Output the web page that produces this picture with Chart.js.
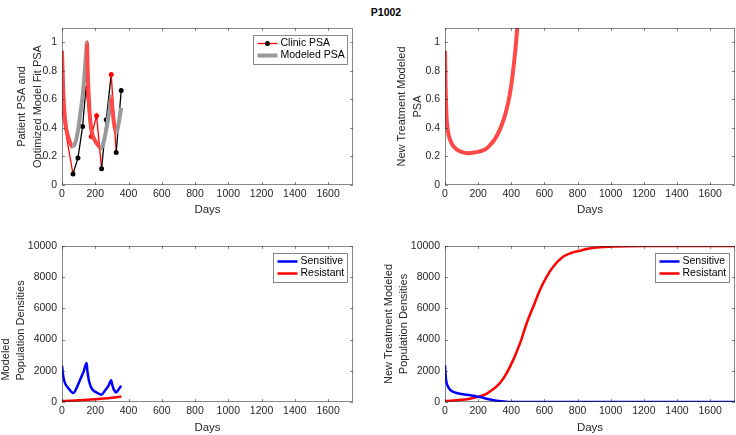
<!DOCTYPE html>
<html>
<head>
<meta charset="utf-8">
<script src="https://cdn.jsdelivr.net/npm/chart.js@4/dist/chart.umd.min.js"></script>
<style>
    body { margin: 0; background: #fff; width: 736px; height: 435px; position: relative; overflow: hidden; }
    #title { position: absolute; left: 336px; top: 6px; width: 100px; text-align: center;
             font: bold 10.5px "Liberation Sans", Arial, sans-serif; color: #000; }
    canvas { position: absolute; }
</style>
</head>
<body>
<div id="title">P1002</div>
<canvas id="fitChart" width="368" height="218" style="left:0;top:0"></canvas>
<canvas id="newPsaChart" width="368" height="218" style="left:368px;top:0"></canvas>
<canvas id="popChart" width="368" height="217" style="left:0;top:218px"></canvas>
<canvas id="newPopChart" width="368" height="217" style="left:368px;top:218px"></canvas>
<script>
// axes
const dayRange = [0, 1750];
const psaRange = [0, 1.1];
const popRange = [0, 10000];
const dayTicks = [0, 200, 400, 600, 800, 1000, 1200, 1400, 1600];
const psaTicks = [0, 0.2, 0.4, 0.6, 0.8, 1];
const popTicks = [0, 2000, 4000, 6000, 8000, 10000];

// clinic PSA measurements (1 = on treatment)
const clinicDays = [0, 66, 96, 124, 144, 176, 208, 238, 266, 296, 326, 356];
const clinicPSA = [0.52, 0.077, 0.19, 0.41, 0.68, 0.34, 0.486, 0.113, 0.457, 0.775, 0.228, 0.662];
const clinicOnTreatment = [1, 0, 0, 0, 1, 1, 1, 0, 0, 1, 0, 0];

// optimized model fit
const fitDays = [0, 4, 8, 14, 22, 32, 46, 62, 74, 86, 96, 106, 116, 126, 134, 140, 146, 150,
    153, 156, 161, 166, 176, 186, 196, 206, 216, 232, 240, 246, 256, 266, 276, 286, 296,
    301, 306, 311, 316, 326, 336, 346, 356];
const fitPSA = [0.94, 0.78, 0.64, 0.52, 0.42, 0.36, 0.305, 0.27, 0.28, 0.32, 0.38, 0.46, 0.55, 0.645, 0.75, 0.857, 0.94, 1.0,
    0.86, 0.74, 0.62, 0.505, 0.39, 0.34, 0.317, 0.295, 0.28, 0.258, 0.265, 0.28, 0.33, 0.387, 0.455, 0.53, 0.62,
    0.56, 0.505, 0.45, 0.41, 0.364, 0.40, 0.47, 0.54];
const fitOnTreatment = [1, 1, 1, 1, 1, 1, 1, 0, 0, 0, 0, 0, 0, 0, 0, 0, 0, 1,
    1, 1, 1, 1, 1, 1, 1, 1, 1, 0, 0, 0, 0, 0, 0, 0, 1,
    1, 1, 1, 1, 0, 0, 0, 0];

// new treatment PSA
const newDays = [0, 3, 6, 10, 15, 20, 30, 45, 70, 100, 140, 180, 210, 250, 272, 300, 332, 360, 382, 400, 412, 425, 436, 445];
const newPSA = [0.94, 0.72, 0.58, 0.46, 0.40, 0.36, 0.32, 0.28, 0.25, 0.232, 0.223, 0.228, 0.235, 0.255, 0.28, 0.32, 0.39, 0.48, 0.58, 0.70, 0.81, 0.95, 1.1, 1.22];

// modeled populations, fitted period
const sensDays = [0, 5, 10, 18, 38, 68, 90, 110, 130, 148, 152, 158, 166, 180, 200, 220, 236, 260, 280, 296, 300, 308, 316, 326, 340, 356];
const sensPop = [2330, 1850, 1500, 1210, 890, 575, 950, 1450, 1950, 2500, 2050, 1600, 1200, 850, 650, 530, 470, 750, 1050, 1390, 1200, 900, 720, 615, 800, 1040];
const resDays = [0, 50, 100, 150, 200, 250, 300, 356];
const resPop = [60, 80, 110, 140, 175, 220, 275, 350];

// modeled populations, new treatment
const newSensDays = [0, 3, 6, 10, 20, 30, 50, 70, 100, 130, 160, 190, 220, 250, 280, 310, 340, 370, 400, 450, 600, 1000, 1400, 1750];
const newSensPop = [2350, 1800, 1450, 1215, 950, 790, 650, 575, 510, 470, 420, 360, 300, 210, 140, 85, 45, 20, 5, 0, 0, 0, 0, 0];
const newResDays = [0, 50, 100, 150, 210, 250, 272, 300, 332, 372, 412, 453, 493, 533, 573, 614, 654, 714, 760, 815, 870, 916, 1016, 1200, 1500, 1750];
const newResPop = [60, 90, 140, 210, 360, 520, 680, 900, 1215, 1855, 2700, 3770, 5050, 6120, 7185, 8040, 8680, 9320, 9550, 9700, 9840, 9900, 9960, 9995, 10000, 10000];

const FONT = "'Liberation Sans', Arial, sans-serif";
const TEXT = "#262626";
const BOX = "rgba(38, 38, 38, 0.55)";
const RED = "#ff0000";
const FIT_RED = "#ff4848";
const FIT_GRAY = "#999999";

function points(xs, ys) {
    return xs.map((x, i) => ({ x: x, y: ys[i] }));
}

// MATLAB style box with inward ticks on all sides
const matlabAxes = {
    id: "matlabAxes",
    afterDatasetsDraw(chart) {
        const { ctx, chartArea: a, scales } = chart;
        const len = 3;
        ctx.save();
        ctx.strokeStyle = BOX;
        ctx.lineWidth = 1;
        ctx.strokeRect(a.left + 0.5, a.top + 0.5, a.right - a.left - 1, a.bottom - a.top - 1);
        ctx.beginPath();
        scales.x.ticks.forEach((t) => {
            const px = Math.round(scales.x.getPixelForValue(t.value)) + 0.5;
            ctx.moveTo(px, a.bottom);
            ctx.lineTo(px, a.bottom - len);
            ctx.moveTo(px, a.top);
            ctx.lineTo(px, a.top + len);
        });
        scales.y.ticks.forEach((t) => {
            const py = Math.round(scales.y.getPixelForValue(t.value)) + 0.5;
            ctx.moveTo(a.left, py);
            ctx.lineTo(a.left + len, py);
            ctx.moveTo(a.right, py);
            ctx.lineTo(a.right - len, py);
        });
        ctx.stroke();
        ctx.restore();
    },
};

// legend box inside the upper right corner of the axes
const boxLegend = {
    id: "boxLegend",
    afterDraw(chart, args, opts) {
        const { ctx, chartArea } = chart;
        const sets = chart.data.datasets;
        const sample = 20;
        ctx.save();
        ctx.font = "10.5px " + FONT;
        const textWidth = Math.max(...sets.map((d) => ctx.measureText(d.label).width));
        const boxW = Math.round(4 + sample + 3 + textWidth + 3);
        const boxH = 17 + 12 * (sets.length - 1);
        const left = Math.round(chartArea.right - opts.right - boxW) + 0.5;
        const top = chartArea.top + opts.top + 0.5;
        ctx.fillStyle = "#fff";
        ctx.fillRect(left, top, boxW, boxH);
        ctx.strokeStyle = BOX;
        ctx.lineWidth = 1;
        ctx.strokeRect(left, top, boxW, boxH);
        sets.forEach((d, i) => {
            const y = top + 8 + 12 * i;
            ctx.strokeStyle = d.borderColor;
            ctx.lineWidth = d.borderWidth;
            ctx.beginPath();
            ctx.moveTo(left + 4, y);
            ctx.lineTo(left + 4 + sample, y);
            ctx.stroke();
            if (d.legendMarker) {
                ctx.fillStyle = d.legendMarker;
                ctx.beginPath();
                ctx.arc(left + 4 + sample / 2, y, d.pointRadius, 0, 2 * Math.PI);
                ctx.fill();
            }
            ctx.fillStyle = "#000";
            ctx.textAlign = "left";
            ctx.textBaseline = "middle";
            ctx.fillText(d.label, left + 4 + sample + 3, y);
        });
        ctx.restore();
    },
};

function makePanel(id, cfg) {
    const tickFont = { family: FONT, size: 10.5 };
    return new Chart(document.getElementById(id), {
        type: "line",
        data: { datasets: cfg.datasets },
        options: {
            responsive: false,
            animation: false,
            events: [],
            layout: { padding: { top: 28, right: cfg.right, bottom: 0, left: 0 } },
            plugins: {
                legend: { display: false },
                tooltip: { enabled: false },
                boxLegend: cfg.legend || false,
            },
            scales: {
                x: {
                    type: "linear",
                    min: dayRange[0],
                    max: dayRange[1],
                    afterFit: (s) => { s.height = cfg.xHeight; },
                    afterBuildTicks: (s) => { s.ticks = dayTicks.map((v) => ({ value: v })); },
                    grid: { display: false, drawTicks: false },
                    border: { display: false },
                    ticks: { color: TEXT, font: tickFont, padding: 3, maxRotation: 0, autoSkip: false, callback: (v) => String(v) },
                    title: { display: true, text: "Days", color: TEXT, font: { family: FONT, size: 11.5 }, padding: { top: 0, bottom: cfg.daysPad } },
                },
                y: {
                    type: "linear",
                    min: cfg.yRange[0],
                    max: cfg.yRange[1],
                    afterFit: (s) => { s.width = cfg.yWidth; },
                    afterBuildTicks: (s) => { s.ticks = cfg.yTicks.map((v) => ({ value: v })); },
                    grid: { display: false, drawTicks: false },
                    border: { display: false },
                    ticks: { color: TEXT, font: tickFont, padding: 5, autoSkip: false, callback: (v) => String(v) },
                    title: {
                        display: true,
                        text: cfg.yTitle,
                        align: cfg.yAlign || "center",
                        color: TEXT,
                        font: { family: FONT, size: 11, lineHeight: 1.4 },
                        padding: { top: cfg.yTitlePad, bottom: 0 },
                    },
                },
            },
        },
        plugins: [matlabAxes, boxLegend],
    });
}

makePanel("fitChart", {
    right: 15, xHeight: 33, yWidth: 62, daysPad: 1.5, yTitlePad: 14.5,
    yRange: psaRange, yTicks: psaTicks,
    yTitle: ["Patient PSA and", "Optimized Model Fit PSA"],
    legend: { right: 6, top: 7 },
    datasets: [
        {
            label: "Clinic PSA",
            data: points(clinicDays, clinicPSA),
            borderColor: RED,
            borderWidth: 1.3,
            pointRadius: 2.5,
            pointBorderWidth: 0,
            pointBackgroundColor: clinicOnTreatment.map((t) => (t ? RED : "#000")),
            legendMarker: "#000",
            segment: { borderColor: (c) => (clinicOnTreatment[c.p0DataIndex] ? RED : "#000") },
            order: 1,
        },
        {
            label: "Modeled PSA",
            data: points(fitDays, fitPSA),
            borderColor: FIT_GRAY,
            borderWidth: 4,
            pointRadius: 0,
            cubicInterpolationMode: "monotone",
            segment: { borderColor: (c) => (fitOnTreatment[c.p0DataIndex] ? FIT_RED : FIT_GRAY) },
            order: 0,
        },
    ],
});

makePanel("newPsaChart", {
    right: 1, xHeight: 33, yWidth: 77, daysPad: 1.5, yTitlePad: 26.5,
    yRange: psaRange, yTicks: psaTicks,
    yTitle: ["New Treatment Modeled", "PSA"],
    datasets: [
        {
            label: "New Treatment PSA",
            data: points(newDays, newPSA),
            borderColor: FIT_RED,
            borderWidth: 4,
            pointRadius: 0,
            cubicInterpolationMode: "monotone",
            clip: 0,
        },
    ],
});

makePanel("popChart", {
    right: 15, xHeight: 33, yWidth: 62, daysPad: 0, yTitlePad: -2,
    yRange: popRange, yTicks: popTicks,
    yTitle: ["\u00a0".repeat(7) + "Modeled", "\u00a0".repeat(7) + "Population Densities"],
    yAlign: "start",
    legend: { right: 6, top: 7 },
    datasets: [
        {
            label: "Sensitive",
            data: points(sensDays, sensPop),
            borderColor: "#0000ff",
            borderWidth: 2.5,
            pointRadius: 0,
            cubicInterpolationMode: "monotone",
        },
        {
            label: "Resistant",
            data: points(resDays, resPop),
            borderColor: RED,
            borderWidth: 2.5,
            pointRadius: 0,
            cubicInterpolationMode: "monotone",
        },
    ],
});

makePanel("newPopChart", {
    right: 1, xHeight: 33, yWidth: 77, daysPad: 0, yTitlePad: 13,
    yRange: popRange, yTicks: popTicks,
    yTitle: ["New Treatment Modeled", "Population Densities"],
    legend: { right: 6, top: 7 },
    datasets: [
        {
            label: "Sensitive",
            data: points(newSensDays, newSensPop),
            borderColor: "#0000ff",
            borderWidth: 2.5,
            pointRadius: 0,
            cubicInterpolationMode: "monotone",
        },
        {
            label: "Resistant",
            data: points(newResDays, newResPop),
            borderColor: RED,
            borderWidth: 2.5,
            pointRadius: 0,
            cubicInterpolationMode: "monotone",
        },
    ],
});
</script>
</body>
</html>
